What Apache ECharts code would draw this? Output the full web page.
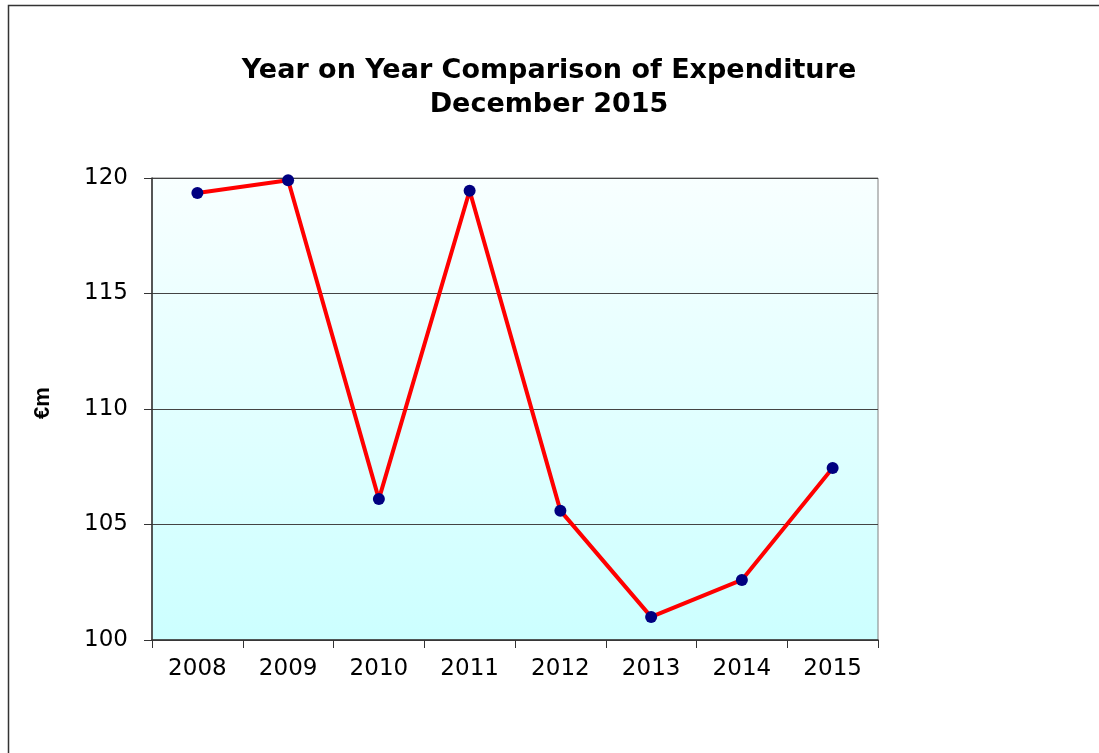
<!DOCTYPE html>
<html><head><meta charset="utf-8">
<script src="https://cdn.jsdelivr.net/npm/echarts@6/dist/echarts.min.js"></script>
<style>html,body{margin:0;padding:0;background:#fff}#c{width:1099px;height:753px}</style>
</head><body><div id="c"></div>
<script>
const years = ['2008','2009','2010','2011','2012','2013','2014','2015'];
const expenditure = [119.35, 119.9, 106.1, 119.45, 105.6, 101.0, 102.6, 107.45];
const titleLines = ['Year on Year Comparison of Expenditure', 'December 2015'];
const yAxisName = '€m';

const FONT = 'DejaVu Sans';
const chart = echarts.init(document.getElementById('c'));
const L = 152, R = 878, T = 178, B = 640;
chart.setOption({
  animation: false,
  title: {
    text: titleLines.join('\n'),
    left: 544, top: 49, textAlign: 'center',
    textStyle: {fontFamily: FONT, fontWeight: 'bold', fontSize: 27, lineHeight: 34, color: '#000'}
  },
  graphic: [
    {type: 'rect', shape: {x: 8.5, y: 5.5, width: 1200, height: 900}, style: {fill: null, stroke: '#333', lineWidth: 1.5}, silent: true}
  ],
  grid: {left: L, right: 1099 - R, top: T, bottom: 753 - B,
    show: true, borderColor: '#808080', borderWidth: 1,
    backgroundColor: new echarts.graphic.LinearGradient(0, 0, 0, 1, [
      {offset: 0, color: '#f8ffff'}, {offset: 1, color: '#ccffff'}])},
  xAxis: {
    type: 'category', data: years, boundaryGap: true,
    axisLine: {lineStyle: {color: '#333', width: 1.5}},
    axisTick: {show: true, length: 8, lineStyle: {color: '#333'}},
    axisLabel: {fontFamily: FONT, fontSize: 23, color: '#000', margin: 18}
  },
  yAxis: {
    type: 'value', min: 100, max: 120, interval: 5,
    name: yAxisName, nameLocation: 'middle', nameGap: 98, nameRotate: 90,
    nameTextStyle: {fontFamily: 'Liberation Sans', fontWeight: 'bold', fontSize: 22, color: '#000', padding: [0, 0, 0, 12]},
    axisLine: {show: true, lineStyle: {color: '#333', width: 1.5}},
    axisTick: {show: true, length: 8, lineStyle: {color: '#333'}},
    splitLine: {lineStyle: {color: '#444', width: 1}},
    axisLabel: {fontFamily: FONT, fontSize: 23, color: '#000', margin: 24}
  },
  series: [{
    type: 'line', data: expenditure,
    lineStyle: {color: '#ff0000', width: 4},
    symbol: 'circle', symbolSize: 12,
    itemStyle: {color: '#000080'},
    z: 3
  }]
});
</script></body></html>
